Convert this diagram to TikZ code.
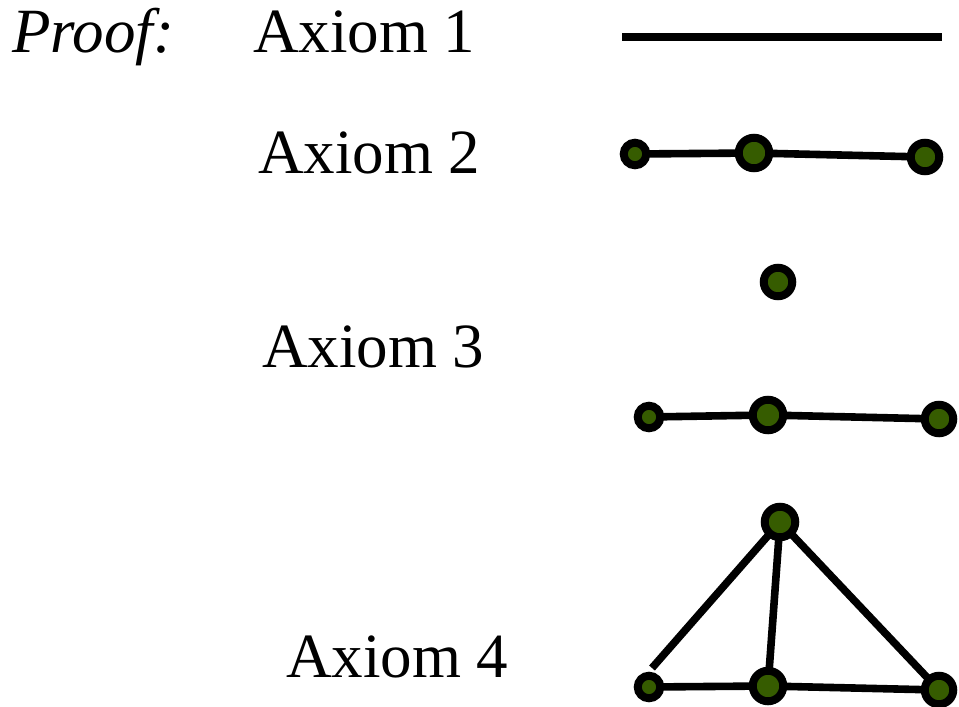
\documentclass[tikz,border=0pt]{standalone}
\usepackage{fontspec}
\setmainfont{Liberation Serif}
\usetikzlibrary{backgrounds}
\definecolor{dotGreen}{HTML}{365C00}

\begin{document}
\begin{tikzpicture}[
  x=1pt, y=-1pt,
  lbl/.style={anchor=base west, inner sep=0pt, font=\fontsize{63}{72}\selectfont},
  edge/.style={line width=7.6pt},
  vtx/.style={circle, draw=black, fill=dotGreen, line width=8pt, inner sep=0pt},
  vsmall/.style={vtx, minimum size=22.5pt},
  vmid/.style={vtx, minimum size=28.5pt},
  vbig/.style={vtx, minimum size=30.5pt},
]
\useasboundingbox (0,0) rectangle (959,707);

% labels
\node[lbl] (proof) at (12,52) {\textit{Proof:}};
\node[lbl] (ax1) at (253,52) {Axiom 1};
\node[lbl] (ax2) at (258,173) {Axiom 2};
\node[lbl] (ax3) at (262,367) {Axiom 3};
\node[lbl] (ax4) at (286,677) {Axiom 4};

% axiom 1
\coordinate (l1a) at (622,37);
\coordinate (l1b) at (942,37);
\draw[edge] (l1a) -- (l1b);

% axiom 2
\node[vsmall] (p2a) at (635,154) {};
\node[vbig]   (p2b) at (754,153) {};
\node[vmid]   (p2c) at (925,157) {};

% axiom 3
\node[vmid]   (q)   at (778,282) {};
\node[vsmall] (p3a) at (649,417) {};
\node[vbig]   (p3b) at (768,415) {};
\node[vmid]   (p3c) at (939,419) {};

% axiom 4
\node[vbig]   (t)   at (780,522) {};
\node[vsmall] (p4a) at (649,687) {};
\node[vbig]   (p4b) at (768,686) {};
\node[vmid]   (p4c) at (939,690) {};
\coordinate (tl) at (652,668);

\begin{scope}[on background layer]
  \foreach \a/\b in {p2a/p2b, p2b/p2c, p3a/p3b, p3b/p3c, p4a/p4b, p4b/p4c, t/p4b, t/p4c}
    \draw[edge] (\a.center) -- (\b.center);
  \draw[edge] (t.center) -- (tl);
\end{scope}
\end{tikzpicture}
\end{document}
